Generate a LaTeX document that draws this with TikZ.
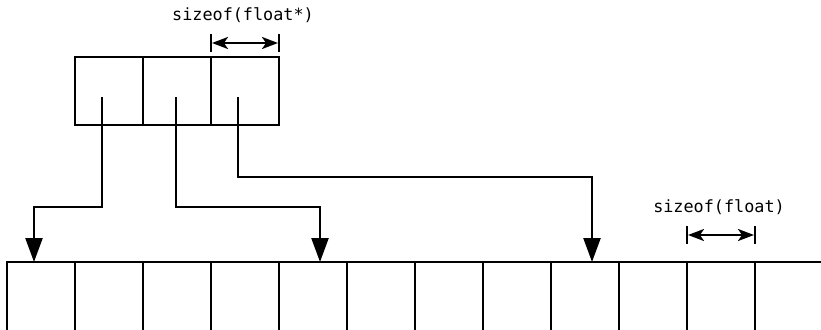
\documentclass[tikz,border=0pt]{standalone}
\usepackage{fontspec}
\setmonofont{DejaVu Sans Mono}
\usetikzlibrary{arrows.meta,calc}
\begin{document}
\begin{tikzpicture}[x=1pt,y=-1pt,line width=2.4pt,
  cell/.style={draw,minimum width=68pt,minimum height=68pt,inner sep=0pt,outer sep=0pt,anchor=north west},
  slot/.style={cell,minimum height=90pt},
  ptr/.style={-{Triangle[length=24pt,width=17pt]}},
  dim/.style={{Stealth[length=16pt,width=12pt,inset=4pt]}-{Stealth[length=16pt,width=12pt,inset=4pt]},line width=2.2pt,shorten <=1pt,shorten >=1pt},
  bar/.style={line width=2.4pt},
  lbl/.style={font=\ttfamily\fontsize{16.8}{19}\selectfont,inner sep=0pt}]
\useasboundingbox (0,0) rectangle (821,329);

% array of three float pointers
\foreach \i in {0,1,2}
  \node[cell] (p\i) at (75+68*\i,57) {};

% array of floats (runs past the edge of the page)
\foreach \i in {0,...,11}
  \node[slot] (a\i) at (7+68*\i,262) {};

% pointers from each slot into the float array
\draw[ptr] ($(p0.north west)+(27,40)$) -- ++(0,110) -| ($(a0.north west)+(27,0)$);
\draw[ptr] ($(p1.north west)+(33,40)$) -- ++(0,110) -| ($(a4.north west)+(41,0)$);
\draw[ptr] ($(p2.north west)+(27,40)$) -- ++(0,80) -| ($(a8.north west)+(41,0)$);

% element sizes
\coordinate (d1l) at ($(p2.north west)+(0,-14)$);
\coordinate (d1r) at ($(p2.north east)+(0,-14)$);
\draw[bar] ($(d1l)+(0,-9)$) -- ($(d1l)+(0,9)$) ($(d1r)+(0,-9)$) -- ($(d1r)+(0,9)$);
\draw[dim] (d1l) -- (d1r);
\node[lbl] (ls) at (243,15) {sizeof(float*)};

\coordinate (d2l) at ($(a10.north west)+(0,-27)$);
\coordinate (d2r) at ($(a10.north east)+(0,-27)$);
\draw[bar] ($(d2l)+(0,-9)$) -- ($(d2l)+(0,9)$) ($(d2r)+(0,-9)$) -- ($(d2r)+(0,9)$);
\draw[dim] (d2l) -- (d2r);
\node[lbl] (lf) at (719,207) {sizeof(float)};
\end{tikzpicture}
\end{document}
